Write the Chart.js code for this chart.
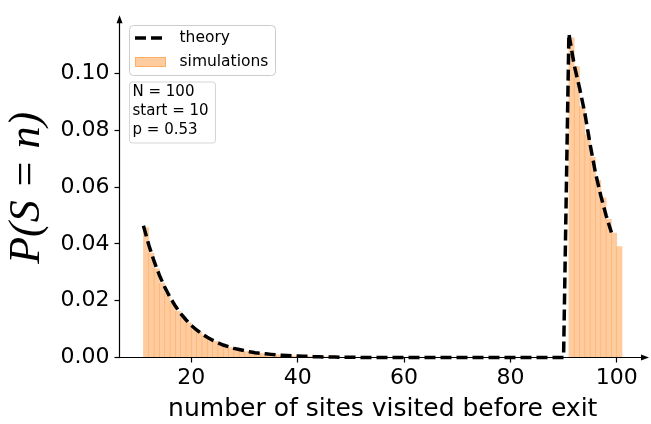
<!DOCTYPE html>
<html>
<head>
<meta charset="utf-8">
<script src="https://cdn.jsdelivr.net/npm/chart.js@4.4.1/dist/chart.umd.min.js"></script>
<style>html,body{margin:0;padding:0;background:#fff}</style>
</head>
<body>
<canvas id="c" width="651" height="424"></canvas>
<script>
'use strict';

// histogram bins (left edge n) and simulated frequencies
const simBins = [11, 12, 13, 14, 15, 16, 17, 18, 19, 20,
	21, 22, 23, 24, 25, 26, 27, 28, 29, 30,
	31, 32, 33, 34, 35, 36, 37, 38, 39, 40,
	41, 42, 43, 44, 45,
	91, 92, 93, 94, 95, 96, 97, 98, 99, 100];
const simP = [0.0458, 0.0368, 0.0312, 0.0262, 0.0226, 0.0192, 0.0163, 0.0143, 0.0122, 0.0104,
	0.0090, 0.0077, 0.0067, 0.0057, 0.0048, 0.0041, 0.0035, 0.0030, 0.0025, 0.0021,
	0.0018, 0.0016, 0.0014, 0.0012, 0.0010, 0.0009, 0.0007, 0.0006, 0.0005, 0.0005,
	0.0004, 0.0003, 0.0003, 0.0002, 0.0002,
	0.1126, 0.1025, 0.0884, 0.0785, 0.0706, 0.0624, 0.0562, 0.0487, 0.0438, 0.0391];

// theory, n = 11 .. 99
const theoryStart = 11;
const theoryP = [0.0464, 0.0397, 0.0339, 0.0290, 0.0248, 0.0212, 0.0181, 0.0155, 0.0133, 0.0113,
	0.0097, 0.0083, 0.0071, 0.0061, 0.0052, 0.0044, 0.0038, 0.0032, 0.0028, 0.0024,
	0.0020, 0.0017, 0.0015, 0.0013, 0.0011, 0.0009, 0.0008, 0.0007, 0.0006, 0.0005,
	0.0004, 0.0004, 0.0003, 0.0003, 0.0002, 0.0002, 0.0002, 0.0001, 0.0001, 0.0001,
	0.0001, 0, 0, 0, 0, 0, 0, 0, 0, 0,
	0, 0, 0, 0, 0, 0, 0, 0, 0, 0,
	0, 0, 0, 0, 0, 0, 0, 0, 0, 0,
	0, 0, 0, 0, 0, 0, 0, 0, 0, 0,
	0.114, 0.103, 0.095, 0.086, 0.075, 0.065, 0.057, 0.050, 0.044];

const xTicks = [20, 40, 60, 80, 100];
const yTicks = [0, 0.02, 0.04, 0.06, 0.08, 0.10];
const legendLabels = ['theory', 'simulations'];
const infoLines = ['N = 100', 'start = 10', 'p = 0.53'];

const barFill = 'rgba(255,127,14,0.4)';
const tickFont = {family: 'DejaVu Sans', size: 22};

function roundRect(ctx, x, y, w, h, r) {
	ctx.beginPath();
	ctx.moveTo(x + r, y);
	ctx.arcTo(x + w, y, x + w, y + h, r);
	ctx.arcTo(x + w, y + h, x, y + h, r);
	ctx.arcTo(x, y + h, x, y, r);
	ctx.arcTo(x, y, x + w, y, r);
	ctx.closePath();
}

// spines with arrow heads, legend and the parameter box
const decor = {
	id: 'decor',
	afterDraw(chart) {
		const ctx = chart.ctx;
		const a = chart.chartArea;
		ctx.save();
		ctx.strokeStyle = '#000';
		ctx.fillStyle = '#000';
		ctx.lineWidth = 1.2;
		ctx.beginPath();
		ctx.moveTo(a.left, a.bottom);
		ctx.lineTo(a.right, a.bottom);
		ctx.moveTo(a.left, a.bottom);
		ctx.lineTo(a.left, a.top);
		ctx.stroke();
		ctx.beginPath();
		ctx.moveTo(a.right + 3, a.bottom);
		ctx.lineTo(a.right - 5, a.bottom - 3);
		ctx.lineTo(a.right - 5, a.bottom + 3);
		ctx.closePath();
		ctx.fill();
		ctx.beginPath();
		ctx.moveTo(a.left, a.top - 3);
		ctx.lineTo(a.left - 3, a.top + 5);
		ctx.lineTo(a.left + 3, a.top + 5);
		ctx.closePath();
		ctx.fill();

		// legend
		roundRect(ctx, 129.5, 25.5, 146, 50, 4);
		ctx.fillStyle = 'rgba(255,255,255,0.8)';
		ctx.fill();
		ctx.strokeStyle = '#cccccc';
		ctx.lineWidth = 1;
		ctx.stroke();
		ctx.strokeStyle = '#000';
		ctx.lineWidth = 3.5;
		ctx.setLineDash([11, 5]);
		ctx.beginPath();
		ctx.moveTo(135, 38);
		ctx.lineTo(162, 38);
		ctx.stroke();
		ctx.setLineDash([]);
		ctx.fillStyle = barFill;
		ctx.fillRect(135, 57, 31, 10);
		ctx.strokeStyle = barFill;
		ctx.lineWidth = 1;
		ctx.strokeRect(135.5, 57.5, 30, 9);
		ctx.fillStyle = '#000';
		ctx.font = '15.5px "DejaVu Sans"';
		ctx.textBaseline = 'middle';
		ctx.fillText(legendLabels[0], 179.5, 38);
		ctx.fillText(legendLabels[1], 179.5, 62);

		// parameter box
		roundRect(ctx, 129.5, 82, 86, 61, 3);
		ctx.fillStyle = 'rgba(255,255,255,0.8)';
		ctx.fill();
		ctx.strokeStyle = '#d5d5d5';
		ctx.stroke();
		ctx.fillStyle = '#000';
		ctx.font = '15px "DejaVu Sans"';
		infoLines.forEach((t, i) => ctx.fillText(t, 132.5, 92 + i * 19));
		ctx.restore();
	}
};

let ctx = document.getElementById('c');

let myChart = new Chart(ctx, {
	type: 'bar',
	data: {
		datasets: [{
			type: 'line',
			label: legendLabels[0],
			data: theoryP.map((p, i) => ({x: theoryStart + i, y: p})),
			borderColor: '#000',
			borderWidth: 3.5,
			borderDash: [11, 5],
			pointRadius: 0,
			fill: false,
			tension: 0,
			clip: false,
			order: 0
		}, {
			type: 'bar',
			label: legendLabels[1],
			data: simBins.map((n, i) => ({x: n + 0.5, y: simP[i]})),
			backgroundColor: barFill,
			borderWidth: 0,
			barPercentage: 1,
			categoryPercentage: 1,
			order: 1
		}]
	},
	options: {
		responsive: false,
		animation: false,
		events: [],
		layout: {padding: {top: 17.5, right: 5, left: 0, bottom: 0}},
		plugins: {legend: {display: false}, tooltip: {enabled: false}},
		scales: {
			x: {
				type: 'linear',
				min: 6.5,
				max: 105.5,
				offset: false,
				afterBuildTicks: s => { s.ticks = xTicks.map(v => ({value: v})); },
				afterFit: s => { s.height = 66.5; },
				ticks: {font: tickFont, color: '#000', padding: 3, maxRotation: 0, autoSkip: false, callback: v => String(v)},
				grid: {offset: false, drawOnChartArea: false, tickLength: 5, tickWidth: 1.2, tickColor: '#000'},
				border: {display: false},
				title: {display: true, text: 'number of sites visited before exit', font: {family: 'DejaVu Sans', size: 25}, color: '#000', padding: 0}
			},
			y: {
				type: 'linear',
				min: 0,
				max: 0.1195,
				afterBuildTicks: s => { s.ticks = yTicks.map(v => ({value: v})); },
				afterFit: s => { s.width = 119.5; },
				ticks: {font: tickFont, color: '#000', padding: 5, callback: v => v.toFixed(2)},
				grid: {offset: false, drawOnChartArea: false, tickLength: 5, tickWidth: 1.2, tickColor: '#000'},
				border: {display: false},
				title: {display: true, text: 'P(S = n)', font: {family: 'Liberation Serif', size: 44, style: 'italic'}, color: '#000', padding: {top: 1, bottom: 0}}
			}
		}
	},
	plugins: [decor]
});
</script>
</body>
</html>
